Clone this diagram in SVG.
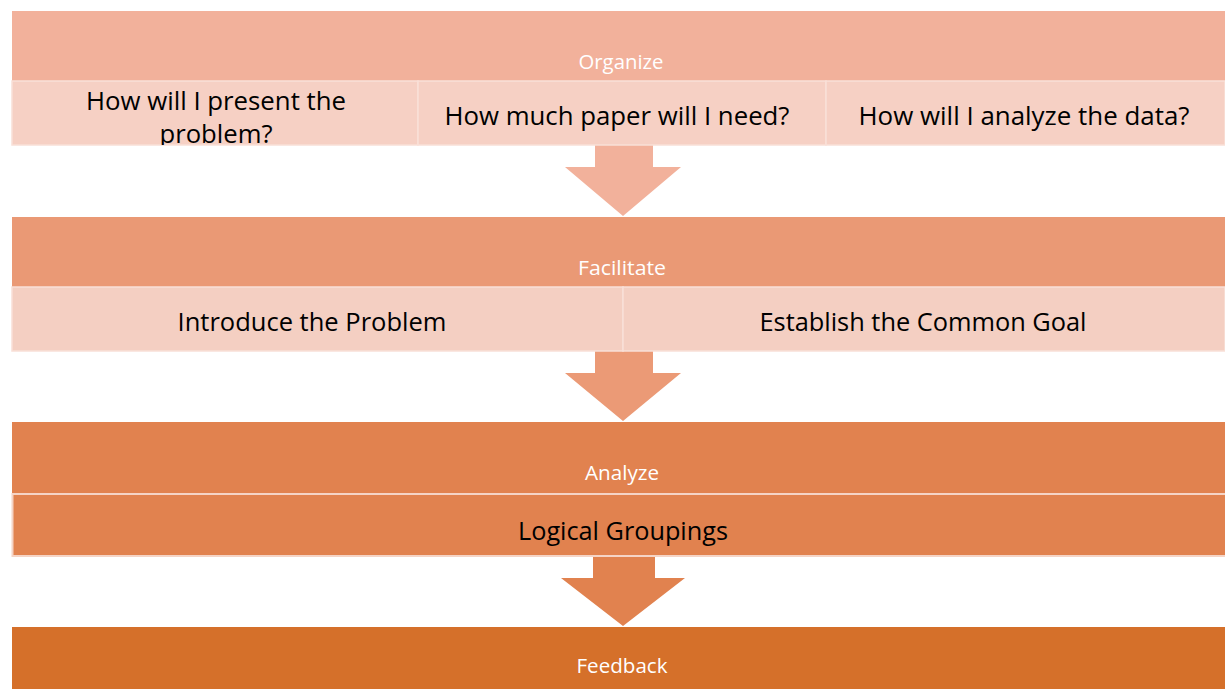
<svg xmlns="http://www.w3.org/2000/svg" width="1225" height="689" viewBox="0 0 1225 689">
<style>
.band-label{font-family:"Open Sans","Liberation Sans",sans-serif;font-size:20px;fill:#ffffff;text-anchor:middle}
.cell-text{font-family:"Open Sans","Liberation Sans",sans-serif;font-size:25px;fill:#000000;text-anchor:middle}
.cell{stroke:#F9E0D7;stroke-width:1.5}
</style>
<defs>
<clipPath id="clipQ1"><rect x="12" y="81" width="406" height="64"/></clipPath>
</defs>
<rect x="0" y="0" width="1225" height="689" fill="#ffffff"/>
<g id="connectors">
<polygon id="arrow1" points="595,145 653,145 653,167 681,167 623,216 565,167 595,167" fill="#F2B19B"/>
<polygon id="arrow2" points="595,351 653,351 653,373 681,373 623,421 565,373 595,373" fill="#EB9A76"/>
<polygon id="arrow3" points="593,556 655,556 655,578 685,578 623,626 561,578 593,578" fill="#E1824F"/>
</g>
<g id="organize">
<rect x="12" y="11" width="1213" height="70" fill="#F2B19B"/>
<text class="band-label" x="621" y="69" textLength="85" lengthAdjust="spacingAndGlyphs">Organize</text>
</g>
<g id="org-q1">
<rect class="cell" x="12" y="81" width="406" height="64" fill="#F6D0C4"/>
<g clip-path="url(#clipQ1)">
<text class="cell-text" x="216" y="110" textLength="260" lengthAdjust="spacingAndGlyphs">How will I present the</text>
<text class="cell-text" x="216" y="143" textLength="113" lengthAdjust="spacingAndGlyphs">problem?</text>
</g>
</g>
<g id="org-q2">
<rect class="cell" x="418" y="81" width="408" height="64" fill="#F6D0C4"/>
<text class="cell-text" x="617" y="125" textLength="345" lengthAdjust="spacingAndGlyphs">How much paper will I need?</text>
</g>
<g id="org-q3">
<rect class="cell" x="826" y="81" width="399" height="64" fill="#F6D0C4"/>
<text class="cell-text" x="1024" y="125" textLength="331" lengthAdjust="spacingAndGlyphs">How will I analyze the data?</text>
</g>
<g id="facilitate">
<rect x="12" y="217" width="1213" height="70" fill="#EA9975"/>
<text class="band-label" x="622" y="275" textLength="88" lengthAdjust="spacingAndGlyphs">Facilitate</text>
</g>
<g id="fac-1">
<rect class="cell" x="12" y="287" width="611" height="64" fill="#F4CFC2"/>
<text class="cell-text" x="312" y="331" textLength="269" lengthAdjust="spacingAndGlyphs">Introduce the Problem</text>
</g>
<g id="fac-2">
<rect class="cell" x="623" y="287" width="602" height="64" fill="#F4CFC2"/>
<text class="cell-text" x="923" y="331" textLength="327" lengthAdjust="spacingAndGlyphs">Establish the Common Goal</text>
</g>
<g id="analyze">
<rect x="12" y="422" width="1213" height="71" fill="#E1824F"/>
<text class="band-label" x="622" y="480" textLength="74" lengthAdjust="spacingAndGlyphs">Analyze</text>
</g>
<g id="ana-1">
<rect x="12.5" y="494" width="1214" height="62" fill="#E1824F" stroke="#F5D4C6" stroke-width="2"/>
<text class="cell-text" x="623" y="540" textLength="210" lengthAdjust="spacingAndGlyphs">Logical Groupings</text>
</g>
<g id="feedback">
<rect x="12" y="627" width="1213" height="62" fill="#D5702A"/>
<text class="band-label" x="622" y="673" textLength="91" lengthAdjust="spacingAndGlyphs">Feedback</text>
</g>
</svg>
